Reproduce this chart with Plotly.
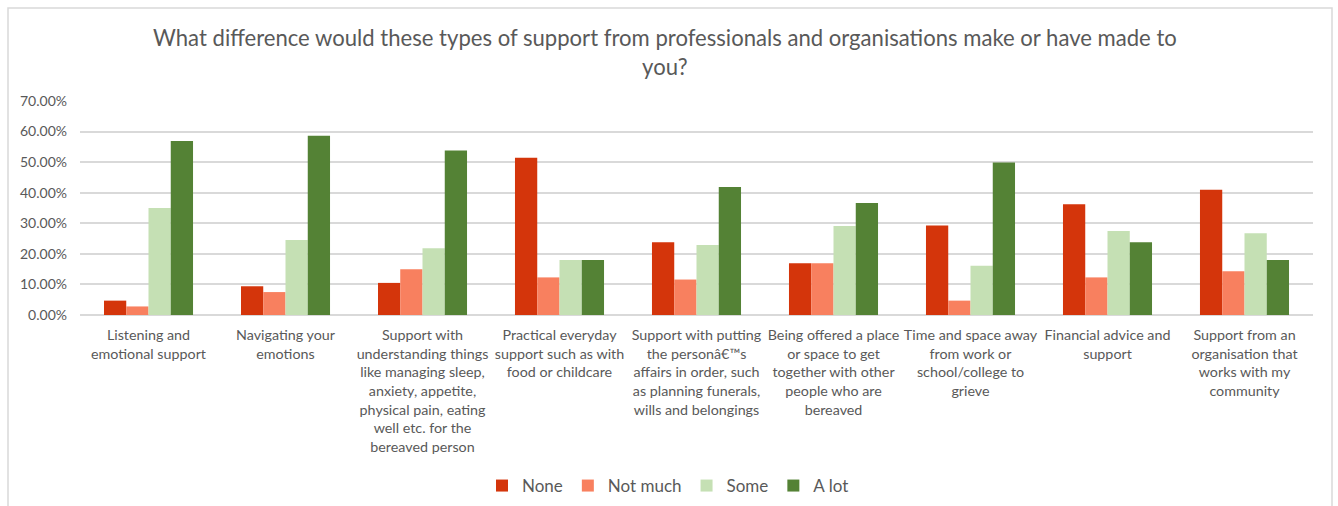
import plotly.graph_objects as go

# Support types (category labels, wrapped as shown under the axis)
categories = [
    "Listening and<br>emotional support",
    "Navigating your<br>emotions",
    "Support with<br>understanding things<br>like managing sleep,<br>anxiety, appetite,<br>physical pain, eating<br>well etc. for the<br>bereaved person",
    "Practical everyday<br>support such as with<br>food or childcare",
    "Support with putting<br>the personâ€™s<br>affairs in order, such<br>as planning funerals,<br>wills and belongings",
    "Being offered a place<br>or space to get<br>together with other<br>people who are<br>bereaved",
    "Time and space away<br>from work or<br>school/college to<br>grieve",
    "Financial advice and<br>support",
    "Support from an<br>organisation that<br>works with my<br>community",
]

# Share of respondents per answer (fractions)
none = [0.047, 0.094, 0.105, 0.514, 0.238, 0.169, 0.293, 0.362, 0.410]
not_much = [0.028, 0.075, 0.150, 0.123, 0.116, 0.169, 0.047, 0.123, 0.143]
some = [0.350, 0.245, 0.218, 0.180, 0.229, 0.291, 0.161, 0.275, 0.267]
a_lot = [0.569, 0.586, 0.538, 0.180, 0.419, 0.366, 0.499, 0.238, 0.180]

y_ticks = [0, 0.1, 0.2, 0.3, 0.4, 0.5, 0.6, 0.7]

series = [
    ("None", none, "#D4350B"),
    ("Not much", not_much, "#F8805F"),
    ("Some", some, "#C5E0B4"),
    ("A lot", a_lot, "#548235"),
]

FONT = "Lato, sans-serif"
GREY = "#595959"

fig = go.Figure()
for name, vals, color in series:
    fig.add_trace(go.Bar(name=name, x=categories, y=vals,
                         marker=dict(color=color, line=dict(width=0))))

W, H = 1338, 506
L, R, T, B = 80, 25, 101, 191
pw, ph = W - L - R, H - T - B


def px_x(p):
    return (p - L) / pw


def px_y(p):
    return (H - B - p) / ph


fig.update_layout(
    width=W, height=H,
    margin=dict(l=L, r=R, t=T, b=B, autoexpand=False),
    paper_bgcolor="white", plot_bgcolor="white",
    barmode="group", bargap=0.35, bargroupgap=0,
    font=dict(family=FONT, color=GREY),
    showlegend=True,
    legend=dict(orientation="h", x=px_x(668), y=px_y(486),
                xanchor="center", yanchor="middle",
                font=dict(size=17, color=GREY, family=FONT),
                traceorder="normal"),
    xaxis=dict(showgrid=False, ticks="", showline=False,
               tickfont=dict(size=14.3, color=GREY, family=FONT),
               ticklabelstandoff=10,
               tickangle=0, automargin=False),
    yaxis=dict(range=[0, 0.7], tickvals=y_ticks, tickformat=".2%",
               showgrid=True, gridcolor="#D9D9D9", gridwidth=1.5,
               zeroline=True, zerolinecolor="#D9D9D9", zerolinewidth=1.5,
               showline=False, ticks="",
               ticklabelstandoff=12,
               tickfont=dict(size=14, color=GREY, family=FONT),
               automargin=False),
    annotations=[dict(
        text="What difference would these types of support from professionals and organisations make or have made to<br>you?",
        xref="paper", yref="paper", x=px_x(664.5), y=px_y(52),
        xanchor="center", yanchor="middle", showarrow=False,
        font=dict(size=22.1, color=GREY, family=FONT),
    )],
    shapes=[dict(type="rect", xref="paper", yref="paper",
                 x0=px_x(8), x1=px_x(1332), y0=px_y(520), y1=px_y(8),
                 line=dict(color="#D9D9D9", width=1.5), layer="below")],
)

fig.write_html("out.html")
